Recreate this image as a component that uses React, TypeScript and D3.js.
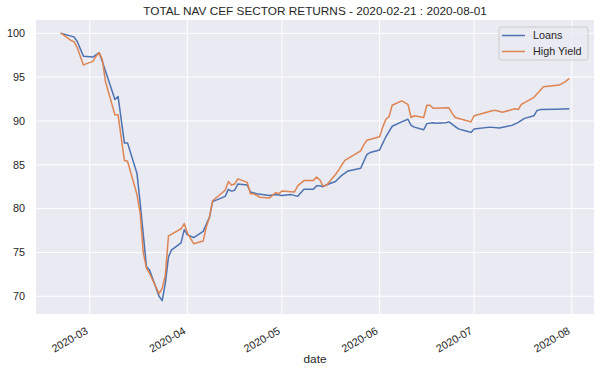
import React from "react";
import * as d3 from "d3";

const loansDates = ["2020-02-21","2020-02-25","2020-02-26","2020-02-28","2020-03-02","2020-03-04","2020-03-05","2020-03-09","2020-03-10","2020-03-12","2020-03-13","2020-03-16","2020-03-17","2020-03-19","2020-03-20","2020-03-23","2020-03-24","2020-03-25","2020-03-26","2020-03-27","2020-03-30","2020-03-31","2020-04-01","2020-04-03","2020-04-06","2020-04-07","2020-04-08","2020-04-09","2020-04-13","2020-04-14","2020-04-15","2020-04-16","2020-04-17","2020-04-20","2020-04-21","2020-04-23","2020-04-27","2020-04-29","2020-05-01","2020-05-04","2020-05-06","2020-05-08","2020-05-11","2020-05-12","2020-05-13","2020-05-14","2020-05-15","2020-05-18","2020-05-20","2020-05-22","2020-05-26","2020-05-28","2020-05-29","2020-06-01","2020-06-03","2020-06-05","2020-06-08","2020-06-10","2020-06-11","2020-06-12","2020-06-15","2020-06-16","2020-06-18","2020-06-19","2020-06-22","2020-06-23","2020-06-26","2020-06-29","2020-06-30","2020-07-01","2020-07-06","2020-07-09","2020-07-13","2020-07-15","2020-07-17","2020-07-20","2020-07-21","2020-07-22","2020-07-27","2020-07-31"];
const loansValues = [100.0,99.6,99.1,97.4,97.3,97.8,96.8,92.45,92.8,87.5,87.5,84.0,80.7,73.4,73.0,70.0,69.5,71.5,74.5,75.3,76.1,77.6,77.0,76.7,77.4,78.2,79.0,80.8,81.4,82.2,82.0,82.1,82.8,82.7,81.9,81.7,81.5,81.6,81.5,81.6,81.4,82.2,82.2,82.6,82.6,82.5,82.7,83.1,83.8,84.3,84.6,86.2,86.4,86.7,88.2,89.4,89.9,90.2,89.5,89.3,89.0,89.7,89.8,89.75,89.8,89.9,89.1,88.8,88.7,89.1,89.3,89.2,89.5,89.85,90.3,90.6,91.2,91.3,91.35,91.4];

const hyDates = ["2020-02-21","2020-02-24","2020-02-25","2020-02-26","2020-02-28","2020-03-02","2020-03-03","2020-03-04","2020-03-05","2020-03-06","2020-03-09","2020-03-10","2020-03-12","2020-03-13","2020-03-16","2020-03-17","2020-03-18","2020-03-19","2020-03-20","2020-03-23","2020-03-24","2020-03-25","2020-03-26","2020-03-27","2020-03-30","2020-03-31","2020-04-01","2020-04-03","2020-04-06","2020-04-07","2020-04-08","2020-04-09","2020-04-13","2020-04-14","2020-04-15","2020-04-16","2020-04-17","2020-04-20","2020-04-21","2020-04-22","2020-04-24","2020-04-27","2020-04-28","2020-04-29","2020-04-30","2020-05-01","2020-05-05","2020-05-06","2020-05-08","2020-05-11","2020-05-12","2020-05-13","2020-05-14","2020-05-15","2020-05-18","2020-05-19","2020-05-20","2020-05-21","2020-05-26","2020-05-27","2020-05-28","2020-06-01","2020-06-02","2020-06-03","2020-06-04","2020-06-05","2020-06-08","2020-06-10","2020-06-11","2020-06-12","2020-06-15","2020-06-16","2020-06-17","2020-06-18","2020-06-23","2020-06-24","2020-06-25","2020-06-29","2020-06-30","2020-07-01","2020-07-07","2020-07-08","2020-07-10","2020-07-14","2020-07-15","2020-07-16","2020-07-20","2020-07-22","2020-07-23","2020-07-28","2020-07-30","2020-07-31"];
const hyValues = [100.0,99.2,99.05,98.4,96.4,96.8,97.4,97.8,97.0,94.5,90.7,90.7,85.5,85.4,81.6,79.5,75.0,73.2,72.6,70.3,70.9,72.4,76.9,77.1,77.7,78.3,77.2,76.0,76.3,77.9,79.0,80.9,82.1,83.1,82.7,82.8,83.4,83.0,81.7,81.7,81.3,81.2,81.5,81.85,81.7,82.0,81.9,82.6,83.2,83.2,83.6,83.3,82.6,82.6,83.9,84.4,85.0,85.5,86.6,87.3,87.8,88.2,89.3,90.2,90.5,91.8,92.3,91.9,90.4,90.6,90.4,91.8,91.8,91.45,91.5,90.9,90.4,90.0,89.9,90.6,91.2,91.2,91.0,91.4,91.3,91.9,92.7,93.5,93.9,94.1,94.5,94.8];

const seriesNames = ["Loans", "High Yield"];
const seriesColors = ["#4c72b0", "#dd8452"];
const yTicks = [70, 75, 80, 85, 90, 95, 100];
const titleText = "TOTAL NAV CEF SECTOR RETURNS - 2020-02-21 : 2020-08-01";
const xLabel = "date";

const W = 606, H = 374;
const M = { left: 36, right: 594, top: 20, bottom: 314 };
const FONT = "'Liberation Sans', Arial, sans-serif";
const TXT = "#262626";

export default function App() {
  const parse = d3.utcParse("%Y-%m-%d");
  const series = [
    loansDates.map((d, i) => ({ date: parse(d)!, value: loansValues[i] })),
    hyDates.map((d, i) => ({ date: parse(d)!, value: hyValues[i] })),
  ];
  const all = series.flat();
  const [x0, x1] = d3.extent(all, (d) => +d.date) as [number, number];
  const xm = (x1 - x0) * 0.05;
  const x = d3.scaleUtc().domain([new Date(x0 - xm), new Date(x1 + xm)]).range([M.left, M.right]);
  const [y0, y1] = d3.extent(all, (d) => d.value) as [number, number];
  const ym = (y1 - y0) * 0.05;
  const y = d3.scaleLinear().domain([y0 - ym, y1 + ym]).range([M.bottom, M.top]);
  const line = d3.line<{ date: Date; value: number }>().x((d) => x(d.date)).y((d) => y(d.value));
  const xTicks = x.ticks(d3.utcMonth.every(1)!);
  const fmt = d3.utcFormat("%Y-%m");

  return (
    <svg width={W} height={H} style={{ position: "absolute", left: 0, top: 0, background: "#fff" }} fontFamily={FONT}>
      <rect x={M.left} y={M.top} width={M.right - M.left} height={M.bottom - M.top} fill="#eaeaf2" />
      {xTicks.map((t, i) => (
        <line key={"gx" + i} x1={x(t)} x2={x(t)} y1={M.top} y2={M.bottom} stroke="#fff" strokeWidth={1} />
      ))}
      {yTicks.map((t, i) => (
        <line key={"gy" + i} x1={M.left} x2={M.right} y1={y(t)} y2={y(t)} stroke="#fff" strokeWidth={1} />
      ))}
      <g clipPath="url(#clip)">
        {series.map((s, i) => (
          <path key={"s" + i} d={line(s) || ""} fill="none" stroke={seriesColors[i]} strokeWidth={1.5} strokeLinejoin="round" strokeLinecap="square" />
        ))}
      </g>
      <defs>
        <clipPath id="clip">
          <rect x={M.left} y={M.top} width={M.right - M.left} height={M.bottom - M.top} />
        </clipPath>
      </defs>
      {yTicks.map((t, i) => (
        <text key={"ty" + i} x={M.left - 11} y={y(t)} dy="0.35em" textAnchor="end" fontSize={10.8} fill={TXT}>
          {t}
        </text>
      ))}
      {xTicks.map((t, i) => (
        <text key={"tx" + i} transform={`translate(${x(t) - 1},${M.bottom + 19}) rotate(-30)`} textAnchor="end" fontSize={10.8} fill={TXT}>
          {fmt(t)}
        </text>
      ))}
      <text x={(M.left + M.right) / 2} y={363} textAnchor="middle" fontSize={11.8} fill={TXT}>{xLabel}</text>
      <text x={(M.left + M.right) / 2} y={15} textAnchor="middle" fontSize={11.8} fill={TXT}>{titleText}</text>
      <g>
        <rect x={499} y={27} width={89} height={33} rx={2.5} fill="#eaeaf2" fillOpacity={0.8} stroke="#cccccc" strokeWidth={1} />
        {seriesNames.map((n, i) => (
          <g key={"lg" + i}>
            <line x1={502} x2={525} y1={35.5 + i * 16} y2={35.5 + i * 16} stroke={seriesColors[i]} strokeWidth={1.5} />
            <text x={533} y={35.5 + i * 16} dy="0.35em" fontSize={10.8} fill={TXT}>{n}</text>
          </g>
        ))}
      </g>
    </svg>
  );
}
